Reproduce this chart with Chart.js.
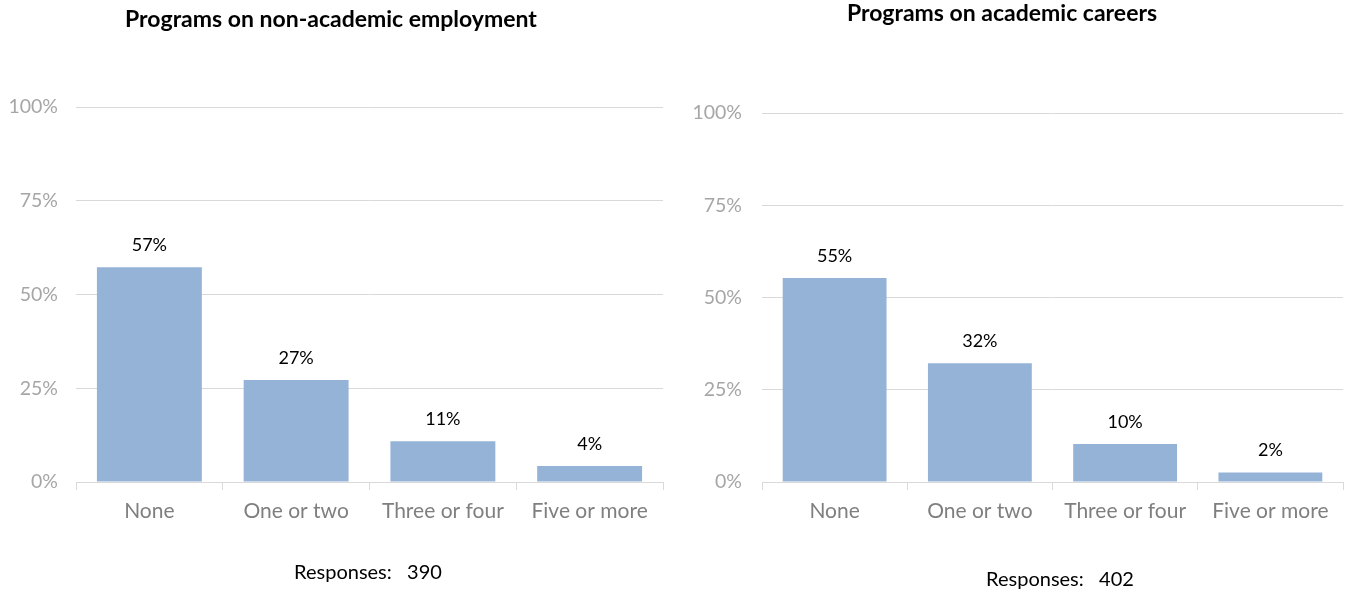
<!DOCTYPE html>
<html>
<head>
<meta charset="UTF-8">
<title>Career programs</title>
<style>
body { margin: 0; background: #fff; font-family: Lato, "Open Sans", sans-serif; }
.wrap { position: absolute; top: 0; height: 592px; }
.title { position: absolute; font-weight: bold; font-size: 23px; line-height: 28px; color: #000; white-space: nowrap; transform: translateX(-50%); }
.resp { position: absolute; font-size: 20px; line-height: 24px; color: #000; white-space: pre; transform: translateX(-50%); }
</style>
<script src="https://cdn.jsdelivr.net/npm/chart.js"></script>
</head>
<body>
	<div class="wrap" style="left:0;width:680px"><canvas id="left-chart"></canvas></div>
	<div class="wrap" style="left:680px;width:669px"><canvas id="right-chart"></canvas></div>
	<div class="title" style="left:331px;top:4px">Programs on non-academic employment</div>
	<div class="title" style="left:1002px;top:-2px">Programs on academic careers</div>
	<div class="resp" style="left:368px;top:559px">Responses:   390</div>
	<div class="resp" style="left:1060px;top:566px">Responses:   402</div>

	<script>
		const categories = ['None', 'One or two', 'Three or four', 'Five or more'];
		const nonAcademic = [57.3, 27.2, 10.9, 4.3];
		const nonAcademicLabels = ['57%', '27%', '11%', '4%'];
		const academic = [55.3, 32.2, 10.3, 2.6];
		const academicLabels = ['55%', '32%', '10%', '2%'];
		const yTicks = [0, 25, 50, 75, 100];

		// draws the percent text above each bar
		const barLabels = {
			id: 'barLabels',
			afterDatasetsDraw(chart, args, opts) {
				const c = chart.ctx;
				const meta = chart.getDatasetMeta(0);
				c.save();
				c.font = '18px Lato, sans-serif';
				c.fillStyle = '#000';
				c.textAlign = 'center';
				c.textBaseline = 'middle';
				meta.data.forEach((bar, i) => {
					c.fillText(opts.texts[i], bar.x, bar.y - 22);
				});
				c.restore();
			}
		};

		function makeChart(id, values, texts, pad, yWidth, tickPad) {
			return new Chart(document.getElementById(id), {
				type: 'bar',
				data: {
					labels: categories,
					datasets: [{
						data: values,
						backgroundColor: '#95b3d7',
						borderWidth: 0,
						categoryPercentage: 1,
						barPercentage: 0.715
					}]
				},
				plugins: [barLabels],
				options: {
					responsive: true,
					maintainAspectRatio: false,
					animation: false,
					layout: { padding: pad },
					plugins: {
						legend: { display: false },
						tooltip: { enabled: false },
						barLabels: { texts: texts }
					},
					scales: {
						x: {
							grid: { drawOnChartArea: false, tickLength: 8, color: '#d9d9d9' },
							border: { display: true, color: '#d9d9d9', width: 1 },
							ticks: { color: '#7f7f7f', font: { family: 'Lato', size: 21 }, padding: 9 },
							afterFit: s => { s.height = 50; }
						},
						y: {
							min: 0,
							max: 100,
							afterBuildTicks: s => { s.ticks = yTicks.map(v => ({ value: v })); },
							grid: { color: '#d9d9d9', drawTicks: false },
							border: { display: false },
							ticks: {
								color: '#a6a6a6',
								font: { family: 'Lato', size: 19.5 },
								padding: tickPad,
								callback: v => v + '%'
							},
							afterFit: s => { s.width = yWidth; }
						}
					}
				}
			});
		}

		makeChart('left-chart', nonAcademic, nonAcademicLabels,
			{ top: 107, bottom: 60, left: 0, right: 17 }, 76, 18);
		makeChart('right-chart', academic, academicLabels,
			{ top: 113, bottom: 60, left: 0, right: 6 }, 82, 20);
	</script>
</body>
</html>
